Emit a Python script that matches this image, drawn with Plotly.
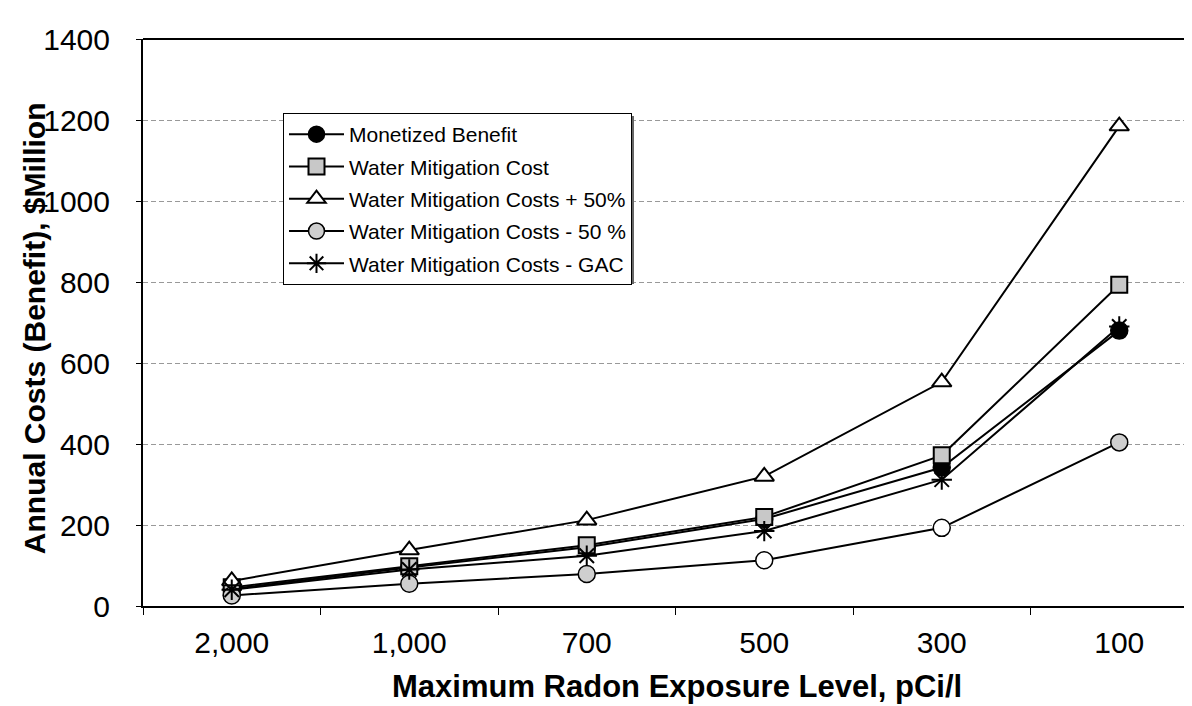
import plotly.graph_objects as go

categories = ["2,000", "1,000", "700", "500", "300", "100"]
monetized_benefit = [42, 95, 145, 215, 342, 680]
water_cost = [46, 98, 150, 220, 372, 793]
water_cost_plus50 = [62, 138, 212, 320, 553, 1185]
water_cost_minus50 = [26, 55, 79, 113, 193, 404]
water_cost_gac = [40, 90, 124, 185, 312, 690]

series_names = [
    "Monetized Benefit",
    "Water Mitigation Cost",
    "Water Mitigation Costs + 50%",
    "Water Mitigation Costs - 50 %",
    "Water Mitigation Costs - GAC",
]

L, R, T, B = 135, 0, 31, 108
W, H = 1192, 706
pw = W - L - R
ph = H - T - B
FONT = "Liberation Sans, Arial"

fig = go.Figure()

line = dict(color="black", width=2)

fig.add_trace(go.Scatter(
    x=categories, y=monetized_benefit, name=series_names[0], mode="lines+markers",
    legendgroup="g0",
    line=line, marker=dict(symbol="circle", size=17, color="black",
                           line=dict(color="black", width=1.5))))
fig.add_trace(go.Scatter(
    x=categories, y=water_cost, name=series_names[1], mode="lines+markers",
    legendgroup="g1",
    line=line, marker=dict(symbol="square", size=16, color="#c8c8c8",
                           line=dict(color="black", width=2))))
fig.add_trace(go.Scatter(
    x=categories, y=water_cost_plus50, name=series_names[2], mode="lines+markers",
    legendgroup="g2",
    line=line, marker=dict(symbol="triangle-up", size=17, color="white",
                           line=dict(color="black", width=2))))
fig.add_trace(go.Scatter(
    x=categories, y=water_cost_minus50, name=series_names[3], mode="lines+markers",
    legendgroup="g3",
    line=line, marker=dict(symbol="circle", size=17,
                           color=["#cfcfcf", "#cfcfcf", "#cfcfcf", "white", "white", "#cfcfcf"],
                           line=dict(color="black", width=1.5))))
fig.add_trace(go.Scatter(
    x=categories, y=water_cost_gac, name=series_names[4], mode="lines+markers",
    legendgroup="g4",
    line=line, marker=dict(symbol="asterisk-open", size=17, color="black",
                           line=dict(color="black", width=2))))

span = pw / 177.5
fig.update_xaxes(
    type="category", range=[-0.5, -0.5 + span],
    showline=True, linecolor="black", linewidth=2,
    ticks="outside", ticklen=7, tickcolor="black", tickwidth=1,
    tickson="boundaries", ticklabelstandoff=9,
    tickfont=dict(family=FONT, size=30, color="black"),
    showgrid=False, zeroline=False,
)
fig.update_yaxes(
    range=[0, 1400], dtick=200,
    showline=True, linecolor="black", linewidth=2,
    ticks="outside", ticklen=5, tickcolor="black", ticklabelstandoff=20,
    tickfont=dict(family=FONT, size=30, color="black"),
    showgrid=True, gridcolor="#999999", gridwidth=1, griddash="5px,3px",
    zeroline=False,
)

# top frame line
fig.add_shape(type="line", xref="paper", yref="paper", x0=0, x1=1, y0=1, y1=1,
              line=dict(color="black", width=2))

# legend shadow (thin, just behind the legend box)
lx0, ly0, lx1, ly1 = 275, 105, 623, 273
fig.add_shape(type="rect", xref="paper", yref="paper",
              x0=(lx0 + 3 - L) / pw, x1=(lx1 + 3 - L) / pw,
              y0=1 - (ly1 + 3 - T) / ph, y1=1 - (ly0 + 3 - T) / ph,
              fillcolor="#666666", line=dict(width=0), layer="above")

fig.add_annotation(
    text="<b>Annual Costs (Benefit), $Million</b>", textangle=-90,
    xref="paper", yref="paper", x=(26 - L) / pw, y=0.49,
    showarrow=False, xanchor="center", yanchor="middle",
    font=dict(family=FONT, size=30, color="black"))
fig.add_annotation(
    text="<b>Maximum Radon Exposure Level, pCi/l</b>",
    xref="paper", yref="paper", x=(669 - L) / pw, y=-(678 - (H - B)) / ph,
    showarrow=False, xanchor="center", yanchor="middle",
    font=dict(family=FONT, size=31, color="black"))

fig.update_layout(
    width=W, height=H,
    margin=dict(l=L, r=R, t=T, b=B, autoexpand=False),
    paper_bgcolor="white", plot_bgcolor="white",
    showlegend=True,
    legend=dict(
        x=(lx0 - L) / pw, y=1 - (ly0 - T) / ph, xanchor="left", yanchor="top",
        bgcolor="white", bordercolor="black", borderwidth=1,
        font=dict(family=FONT, size=21, color="black"),
        tracegroupgap=2, itemwidth=55,
    ),
    font=dict(family=FONT, color="black"),
)

fig.write_html("out.html")
